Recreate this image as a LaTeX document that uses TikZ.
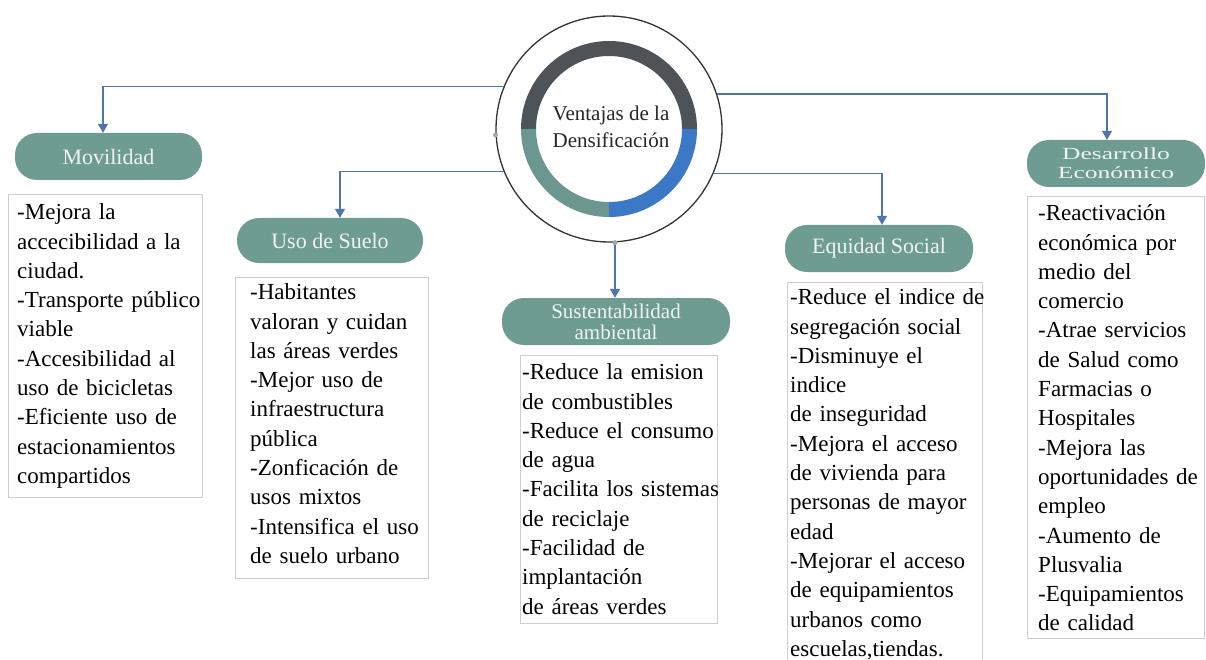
\documentclass[tikz,border=0pt]{standalone}
\usepackage{fontspec}
\setmainfont{Liberation Serif}
\usetikzlibrary{arrows.meta}
\definecolor{pill}{HTML}{6E9B92}
\definecolor{pilltext}{HTML}{EEF4F2}
\definecolor{conn}{HTML}{4F76A6}
\definecolor{ringdark}{HTML}{4E5357}
\definecolor{ringteal}{HTML}{6C9690}
\definecolor{ringblue}{HTML}{3B79C6}
\definecolor{boxline}{HTML}{CFCFCF}
\begin{document}
\begin{tikzpicture}[x=1pt,y=-1pt,
  pillbox/.style={rectangle, rounded corners=22pt, fill=pill, text=pilltext,
    font=\fontsize{22}{22}\selectfont, inner sep=0pt, align=center},
  listtext/.style={inner sep=0pt, anchor=north west, align=left, text width=215pt,
    font=\fontsize{23}{29.3}\selectfont, text=black},
  listbox/.style={draw=boxline, line width=1pt, fill=white},
  link/.style={draw=conn, line width=1.3pt, -{Triangle[width=10pt,length=9pt]}},
  ring/.style={line width=15pt},
]
\useasboundingbox (0,0) rectangle (1206,660);
\fill[white] (0,0) rectangle (1206,660);
\clip (0,0) rectangle (1206,660);

% central circle
\node[circle, draw=black!80, line width=1.3pt, minimum size=226pt, inner sep=0pt] (c) at (609,129) {};
\draw[ring, ringdark] ([shift={(180:80.5)}]c.center) arc[start angle=180, end angle=360, radius=80.5];
\draw[ring, ringteal] ([shift={(90:80.5)}]c.center) arc[start angle=90, end angle=180, radius=80.5];
\draw[ring, ringblue] ([shift={(0:80.5)}]c.center) arc[start angle=0, end angle=90, radius=80.5];
\node[align=center, font=\fontsize{21}{27}\selectfont, text=black!85, inner sep=0pt] (ct) at (611,127) {Ventajas de la\\Densificación};

% category pills
\node[pillbox, minimum width=187pt, minimum height=47pt] (mov) at (108.5,156.5) {Movilidad};
\node[pillbox, minimum width=186pt, minimum height=45pt] (uso) at (330,240.5) {Uso de Suelo};
\node[pillbox, minimum width=228pt, minimum height=47pt, font=\fontsize{21}{21}\selectfont] (sus) at (616,321.5) {Sustentabilidad\\ambiental};
\node[pillbox, minimum width=178pt, minimum height=47pt, font=\fontsize{17}{19}\selectfont] (des) at (1116,163.5) {\scalebox{1.5}[1]{Desarrollo}\\\scalebox{1.5}[1]{Económico}};
\node[pillbox, minimum width=188pt, minimum height=47pt] (eq) at (879,248.5) {Equidad Social};

% connectors
\draw[link] (c.158.9) -| ([xshift=-5.5pt]mov.north);
\draw[link] (c.18.9) -| ([xshift=-9pt]des.north);
\draw[link] (c.202.2) -| ([xshift=10pt]uso.north);
\draw[link] (c.337.8) -| ([xshift=3pt]eq.north);
\draw[link] ([xshift=6pt]c.south) -- ([xshift=-1pt]sus.north);
\fill[gray!70] (c.183) circle[radius=2.5pt];
\fill[gray!70] ([xshift=6pt]c.south) circle[radius=2.5pt];

% list boxes
\draw[listbox] (8,195) rectangle (202,497);
\draw[listbox] (235,277) rectangle (428,578);
\draw[listbox] (520,355) rectangle (717,623);
\draw[listbox] (787,282) rectangle (982,672);
\draw[listbox] (1027,197) rectangle (1204,638);

\node[listtext] (tmov) at (17,199) {\strut-Mejora la\\accecibilidad a la\\ciudad.\\-Transporte público\\viable\\-Accesibilidad al\\uso de bicicletas\\-Eficiente uso de\\estacionamientos\\compartidos};
\node[listtext] (tuso) at (250,279) {\strut-Habitantes\\valoran y cuidan\\las áreas verdes\\-Mejor uso de\\infraestructura\\pública\\-Zonficación de\\usos mixtos\\-Intensifica el uso\\de suelo urbano};
\node[listtext] (tsus) at (522,359) {\strut-Reduce la emision\\de combustibles\\-Reduce el consumo\\de agua\\-Facilita los sistemas\\de reciclaje\\-Facilidad de\\implantación\\de áreas verdes};
\node[listtext] (teq) at (790,284) {\strut-Reduce el indice de\\segregación social\\-Disminuye el\\indice\\de inseguridad\\-Mejora el acceso\\de vivienda para\\personas de mayor\\edad\\-Mejorar el acceso\\de equipamientos\\urbanos como\\escuelas,tiendas.};
\node[listtext] (tdes) at (1038,200) {\strut-Reactivación\\económica por\\medio del\\comercio\\-Atrae servicios\\de Salud como\\Farmacias o\\Hospitales\\-Mejora las\\oportunidades de\\empleo\\-Aumento de\\Plusvalia\\-Equipamientos\\de calidad};
\end{tikzpicture}
\end{document}
